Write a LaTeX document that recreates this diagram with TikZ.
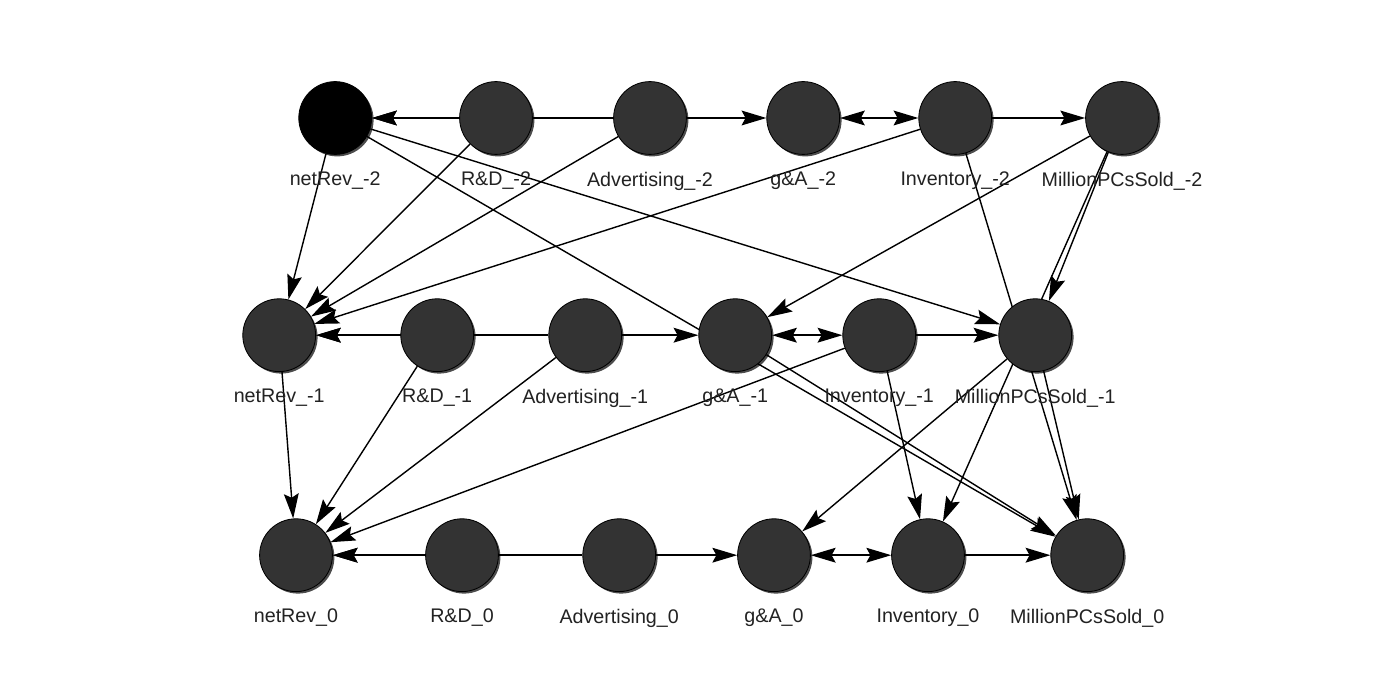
\documentclass[tikz,border=0pt]{standalone}
\usepackage{fontspec}
\setmainfont{Liberation Sans}
\usetikzlibrary{arrows.meta, shadows}
\definecolor{nodegray}{RGB}{51,51,51}
\definecolor{labgray}{RGB}{34,34,34}
\pgfdeclarelayer{edges}
\pgfsetlayers{edges,main}

\begin{document}
\begin{tikzpicture}[
    var/.style={circle, draw=black, line width=0.6pt, fill=nodegray, minimum size=1.82cm, inner sep=0pt,
        drop shadow={shadow xshift=0.05cm, shadow yshift=-0.05cm, fill=black, opacity=0.7}},
    lab/.style={font=\fontsize{14pt}{16pt}\selectfont, text=labgray, inner sep=0pt, label distance=0.42cm},
    arrow/.style={-{Stealth[length=0.62cm, width=0.37cm, inset=0.1cm]}, line width=1pt},
    both/.style={{Stealth[length=0.62cm, width=0.37cm, inset=0.1cm]}-{Stealth[length=0.62cm, width=0.37cm, inset=0.1cm]}, line width=1pt}
]

% Slice -2
\node[var, fill=black] (rev2) at (8.38,-2.95) [label={[lab]below:netRev\_-2}] {};
\node[var] (rd2) at (12.4,-2.95) [label={[lab]below:R\&D\_-2}] {};
\node[var] (adv2) at (16.25,-2.95) [label={[lab]below:Advertising\_-2}] {};
\node[var] (ga2) at (20.08,-2.95) [label={[lab]below:g\&A\_-2}] {};
\node[var] (inv2) at (23.88,-2.95) [label={[lab]below:Inventory\_-2}] {};
\node[var] (pcs2) at (28.05,-2.95) [label={[lab]below:MillionPCsSold\_-2}] {};

% Slice -1
\node[var] (rev1) at (6.98,-8.38) [label={[lab]below:netRev\_-1}] {};
\node[var] (rd1) at (10.93,-8.38) [label={[lab]below:R\&D\_-1}] {};
\node[var] (adv1) at (14.63,-8.38) [label={[lab]below:Advertising\_-1}] {};
\node[var] (ga1) at (18.38,-8.38) [label={[lab]below:g\&A\_-1}] {};
\node[var] (inv1) at (21.98,-8.38) [label={[lab]below:Inventory\_-1}] {};
\node[var] (pcs1) at (25.88,-8.38) [label={[lab]below:MillionPCsSold\_-1}] {};

% Slice 0
\node[var] (rev0) at (7.4,-13.88) [label={[lab]below:netRev\_0}] {};
\node[var] (rd0) at (11.55,-13.88) [label={[lab]below:R\&D\_0}] {};
\node[var] (adv0) at (15.48,-13.88) [label={[lab]below:Advertising\_0}] {};
\node[var] (ga0) at (19.35,-13.88) [label={[lab]below:g\&A\_0}] {};
\node[var] (inv0) at (23.2,-13.88) [label={[lab]below:Inventory\_0}] {};
\node[var] (pcs0) at (27.18,-13.88) [label={[lab]below:MillionPCsSold\_0}] {};

\begin{pgfonlayer}{edges}
\fill[white, use as bounding box] (0,0) rectangle (35,-17.325);

% Within slice -2
\draw[arrow] (rd2) -- (rev2);
\draw[arrow] (adv2) -- (rev2);
\draw[arrow] (adv2) -- (ga2);
\draw[both] (ga2) -- (inv2);
\draw[arrow] (inv2) -- (pcs2);

% Slice -2 to later slices
\draw[arrow] (rev2) -- (rev1);
\draw[arrow] (rd2) -- (rev1);
\draw[arrow] (adv2) -- (rev1);
\draw[arrow] (inv2) -- (rev1);
\draw[arrow] (rev2) -- (pcs1);
\draw[arrow] (rev2) -- (pcs0);
\draw[arrow] (pcs2) -- (ga1);
\draw[arrow] (pcs2) -- (pcs1);
\draw[arrow] (pcs2) -- (inv0);
\draw[arrow] (inv2) -- (pcs0);

% Within slice -1
\draw[arrow] (rd1) -- (rev1);
\draw[arrow] (adv1) -- (rev1);
\draw[arrow] (adv1) -- (ga1);
\draw[both] (ga1) -- (inv1);
\draw[arrow] (inv1) -- (pcs1);

% Slice -1 to slice 0
\draw[arrow] (rev1) -- (rev0);
\draw[arrow] (rd1) -- (rev0);
\draw[arrow] (adv1) -- (rev0);
\draw[arrow] (inv1) -- (rev0);
\draw[arrow] (ga1) -- (pcs0);
\draw[arrow] (inv1) -- (inv0);
\draw[arrow] (pcs1) -- (ga0);
\draw[arrow] (pcs1) -- (pcs0);

% Within slice 0
\draw[arrow] (rd0) -- (rev0);
\draw[arrow] (adv0) -- (rev0);
\draw[arrow] (adv0) -- (ga0);
\draw[both] (ga0) -- (inv0);
\draw[arrow] (inv0) -- (pcs0);
\end{pgfonlayer}

\end{tikzpicture}
\end{document}
